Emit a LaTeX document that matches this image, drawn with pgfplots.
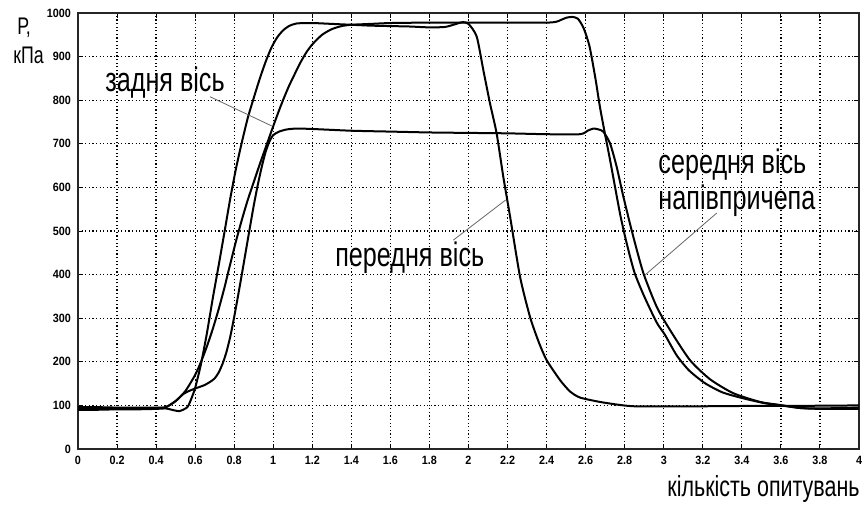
\documentclass[border=0pt]{standalone}
\usepackage{fontspec}
\setmainfont{Liberation Sans}
\newfontfamily\labf{Liberation Sans}[FakeStretch=0.74]
\newfontfamily\tickf{Liberation Sans}[FakeStretch=0.9]
\usepackage{pgfplots}
\pgfplotsset{compat=1.18}

\begin{document}
\begin{tikzpicture}
\begin{axis}[
    at={(0,0)}, anchor=south west,
    scale only axis,
    width=390.5pt, height=218pt,
    xmin=0, xmax=4, ymin=0, ymax=1000,
    xtick={0,0.2,0.4,0.6,0.8,1,1.2,1.4,1.6,1.8,2,2.2,2.4,2.6,2.8,3,3.2,3.4,3.6,3.8,4},
    ytick={0,100,200,300,400,500,600,700,800,900,1000},
    /pgf/number format/assume math mode=true,
    /pgf/number format/fixed,
    /pgf/number format/precision=1,
    /pgf/number format/1000 sep={},
    ticklabel style={font=\tickf\bfseries\fontsize{6}{7}\selectfont},
    tick align=inside,
    major tick length=2.5pt,
    tick style={black, line width=0.5pt},
    axis line style={black!85, line width=0.6pt},
    grid=major,
    grid style={black, line width=0.6pt, dash pattern=on 0.6pt off 1.2pt},
    clip=false,
]

% передня вісь
\addplot[black, line width=1pt, smooth, tension=0.4] coordinates {
(0,90) (0.1,90) (0.2,91) (0.3,91) (0.4,92) (0.45,93) (0.48,90) (0.52,87)
(0.56,96) (0.58,115) (0.6,140) (0.63,195) (0.66,265) (0.69,345) (0.72,420)
(0.75,497) (0.78,575) (0.81,645) (0.84,705) (0.87,760) (0.9,805)
(0.93,848) (0.96,887) (0.99,920) (1.02,944) (1.05,960) (1.08,970)
(1.12,976) (1.2,977) (1.3,975) (1.4,973) (1.5,971) (1.6,970) (1.7,969)
(1.8,967) (1.88,968) (1.93,974) (1.97,979) (2.0,975) (2.042,946)
(2.076,869) (2.11,793) (2.144,724) (2.178,625) (2.213,533) (2.264,395)
(2.315,303) (2.36,245) (2.4,204) (2.469,158) (2.52,132) (2.571,118)
(2.673,108) (2.776,101) (2.85,98) (3.0,98) (3.2,98) (3.5,99) (3.7,99) (4,100)
};

% задня вісь
\addplot[black, line width=1pt, smooth, tension=0.4] coordinates {
(0,93) (0.1,93) (0.2,93) (0.3,94) (0.4,94) (0.45,96) (0.5,110) (0.55,133)
(0.6,170) (0.63,200) (0.66,235) (0.69,275) (0.72,320) (0.75,370)
(0.78,425) (0.81,478) (0.84,527) (0.87,572) (0.9,612) (0.93,652)
(0.96,690) (0.99,728) (1.02,765) (1.05,800) (1.08,832) (1.11,860)
(1.14,887) (1.17,910) (1.2,928) (1.25,950) (1.3,963) (1.35,970)
(1.4,973) (1.5,975) (1.6,977) (1.8,978) (2.0,978) (2.2,978)
(2.4,978) (2.45,980) (2.5,989) (2.53,991) (2.56,987) (2.59,965)
(2.62,923) (2.65,850) (2.673,785) (2.7,720) (2.725,663) (2.776,540)
(2.81,472) (2.85,405) (2.9,350) (2.964,290) (3.006,262) (3.066,215)
(3.13,180) (3.211,151) (3.3,130) (3.4,117) (3.518,105) (3.6,100)
(3.7,94) (3.8,93) (3.9,94) (4,95)
};

% середня вісь напівпричепа
\addplot[black, line width=1pt, smooth, tension=0.4] coordinates {
(0,96) (0.1,96) (0.2,95) (0.3,95) (0.4,95) (0.45,96) (0.5,110) (0.539,126)
(0.573,134) (0.608,140) (0.65,147) (0.68,155) (0.7,162) (0.72,175)
(0.74,195) (0.76,222) (0.78,258) (0.8,303) (0.82,352) (0.84,403)
(0.86,455) (0.88,507) (0.9,558) (0.92,604) (0.94,645) (0.96,680)
(0.98,705) (1.0,720) (1.03,728) (1.07,733) (1.12,735) (1.2,734)
(1.4,730) (1.6,728) (1.8,726) (2.0,725) (2.2,724) (2.4,722)
(2.571,722) (2.61,730) (2.64,735) (2.665,733) (2.69,728) (2.725,701)
(2.759,647) (2.793,579) (2.844,487) (2.896,403) (2.964,326) (3.032,273)
(3.134,204) (3.237,160) (3.356,128) (3.493,108) (3.595,101)
(3.7,94) (3.8,92) (3.9,92) (4,92)
};

% leader lines
\draw[black!60, line width=0.4pt] (axis cs:0.676,808) -- (axis cs:0.992,741);
\draw[black!60, line width=0.4pt] (axis cs:1.922,479) -- (axis cs:2.19,571);
\draw[black!60, line width=0.4pt] (axis cs:3.271,541) -- (axis cs:2.904,399);

% labels
\node[anchor=base west, inner sep=0, font=\labf\fontsize{17}{20}\selectfont]
    at (axis cs:0.138,819) {задня вісь};
\node[anchor=base west, inner sep=0, font=\labf\fontsize{17}{20}\selectfont]
    at (axis cs:1.316,418) {передня вісь};
\node[anchor=base west, inner sep=0, font=\labf\fontsize{17}{20}\selectfont]
    at (axis cs:2.971,631) {середня вісь};
\node[anchor=base west, inner sep=0, font=\labf\fontsize{17}{20}\selectfont]
    at (axis cs:2.971,550) {напівпричепа};

\node[anchor=base west, inner sep=0, font=\labf\fontsize{12}{14}\selectfont]
    at (axis cs:-0.312,950) {Р,};
\node[anchor=base west, inner sep=0, font=\labf\fontsize{12}{14}\selectfont]
    at (axis cs:-0.333,885) {кПа};
\node[anchor=base east, inner sep=0, font=\labf\fontsize{14.5}{17}\selectfont]
    at (axis cs:4.005,-108) {кількість опитувань};
\end{axis}
\pgfresetboundingbox
\path[use as bounding box] (-39pt,-27.5pt) rectangle (393.5pt,224.5pt);
\end{tikzpicture}
\end{document}
